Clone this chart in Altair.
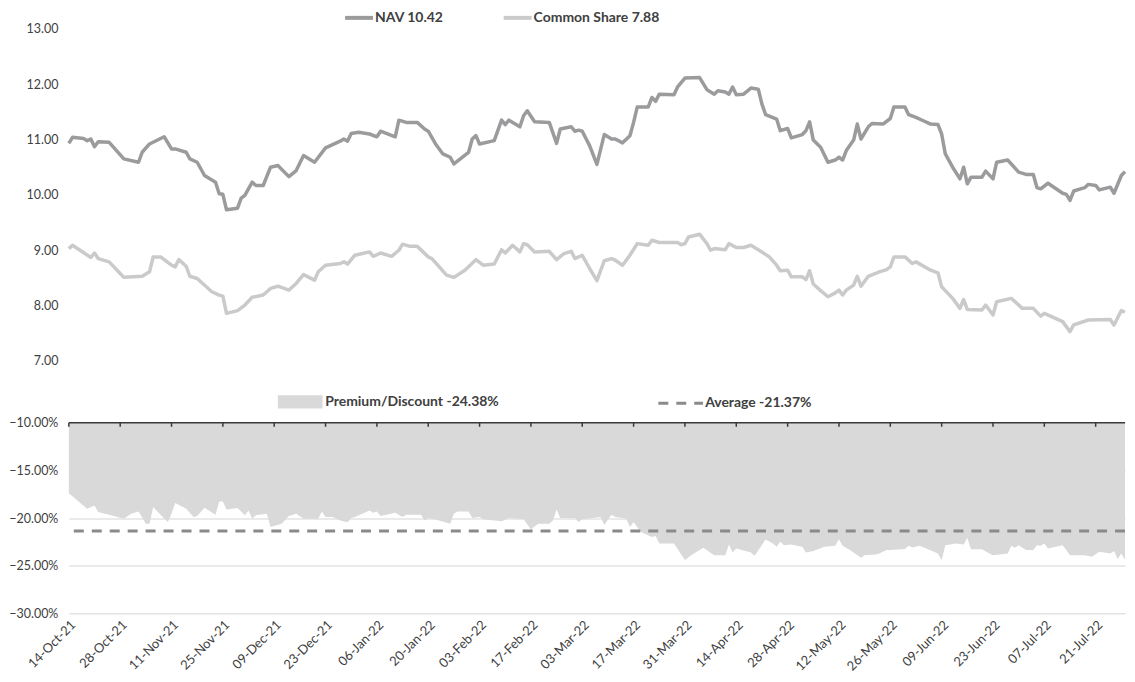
import altair as alt
import pandas as pd

START = "2021-10-14"
END_DAY = 288

nav_days = [0, 1, 4, 5, 6, 7, 8, 11, 13, 15, 19, 20, 22, 26, 28, 29, 32, 33, 35, 37, 40, 41, 42, 43, 46, 47, 48, 50, 51, 53, 55, 57, 60, 62, 64, 67, 70, 74, 75, 76, 77, 79, 82, 84, 85, 89, 90, 92, 95, 97, 98, 100, 102, 104, 105, 109, 110, 111, 112, 116, 118, 119, 120, 123, 124, 125, 127, 131, 133, 134, 137, 138, 139, 140, 142, 144, 146, 148, 149, 151, 153, 154, 155, 158, 159, 160, 161, 165, 166, 168, 172, 174, 176, 177, 179, 180, 181, 182, 184, 186, 188, 189, 190, 193, 194, 196, 197, 200, 201, 202, 203, 205, 207, 209, 210, 211, 212, 214, 215, 216, 218, 219, 222, 224, 225, 228, 229, 231, 233, 235, 237, 238, 239, 241, 243, 244, 245, 246, 249, 250, 252, 253, 256, 259, 261, 263, 264, 265, 267, 271, 272, 273, 274, 277, 278, 280, 281, 284, 285, 287, 288]
nav_vals = [10.93, 11.04, 11.02, 10.98, 11.01, 10.87, 10.96, 10.95, 10.80, 10.65, 10.59, 10.77, 10.92, 11.05, 10.83, 10.83, 10.77, 10.65, 10.59, 10.35, 10.23, 10.02, 10.01, 9.73, 9.76, 9.94, 9.99, 10.23, 10.17, 10.17, 10.50, 10.53, 10.33, 10.44, 10.71, 10.59, 10.85, 10.97, 11.01, 10.97, 11.11, 11.13, 11.10, 11.05, 11.15, 11.05, 11.35, 11.31, 11.31, 11.19, 11.15, 10.92, 10.74, 10.68, 10.56, 10.77, 11.01, 11.07, 10.92, 10.98, 11.35, 11.27, 11.35, 11.23, 11.43, 11.52, 11.32, 11.31, 10.93, 11.19, 11.23, 11.15, 11.17, 11.15, 10.89, 10.55, 11.09, 11.01, 11.01, 10.94, 11.07, 11.31, 11.59, 11.59, 11.76, 11.69, 11.82, 11.81, 11.95, 12.11, 12.12, 11.90, 11.82, 11.88, 11.86, 11.82, 11.95, 11.81, 11.82, 11.93, 11.91, 11.64, 11.45, 11.37, 11.16, 11.20, 11.03, 11.09, 11.16, 11.32, 10.99, 10.86, 10.59, 10.63, 10.68, 10.63, 10.80, 10.99, 11.28, 11.01, 11.23, 11.29, 11.28, 11.38, 11.59, 11.59, 11.45, 11.40, 11.34, 11.28, 11.27, 11.10, 10.74, 10.50, 10.29, 10.50, 10.20, 10.32, 10.32, 10.43, 10.29, 10.59, 10.63, 10.41, 10.37, 10.37, 10.13, 10.11, 10.21, 10.03, 10.01, 9.90, 10.07, 10.13, 10.19, 10.17, 10.09, 10.14, 10.03, 10.35, 10.42]

cs_days = [0, 1, 6, 7, 8, 11, 14, 15, 20, 22, 23, 25, 28, 29, 30, 32, 33, 35, 39, 41, 42, 43, 46, 48, 50, 53, 55, 57, 60, 62, 64, 67, 68, 70, 74, 75, 76, 78, 82, 83, 85, 88, 90, 91, 93, 95, 98, 99, 103, 105, 108, 111, 113, 116, 118, 119, 121, 123, 124, 125, 127, 131, 133, 135, 137, 138, 140, 142, 144, 146, 148, 149, 151, 153, 155, 158, 159, 161, 166, 167, 168, 169, 172, 174, 175, 176, 179, 180, 182, 184, 186, 188, 191, 193, 194, 196, 197, 200, 201, 202, 203, 205, 207, 209, 210, 211, 212, 214, 215, 216, 218, 220, 221, 223, 224, 225, 228, 230, 231, 235, 237, 238, 241, 243, 244, 245, 249, 250, 252, 253, 257, 260, 263, 265, 266, 271, 273, 274, 278, 284, 285, 287, 288]
cs_vals = [9.03, 9.09, 8.87, 8.95, 8.85, 8.79, 8.58, 8.51, 8.53, 8.61, 8.88, 8.88, 8.73, 8.70, 8.83, 8.71, 8.53, 8.49, 8.25, 8.19, 8.17, 7.86, 7.91, 8.01, 8.15, 8.19, 8.31, 8.35, 8.28, 8.40, 8.56, 8.46, 8.61, 8.73, 8.76, 8.79, 8.75, 8.91, 8.97, 8.89, 8.95, 8.89, 9.00, 9.11, 9.07, 9.07, 8.88, 8.85, 8.55, 8.51, 8.64, 8.83, 8.73, 8.75, 9.01, 8.95, 9.09, 8.97, 9.12, 9.10, 8.97, 8.98, 8.83, 8.94, 8.98, 8.85, 8.91, 8.67, 8.45, 8.81, 8.85, 8.82, 8.73, 8.91, 9.12, 9.09, 9.18, 9.14, 9.14, 9.10, 9.12, 9.24, 9.29, 9.12, 9.00, 9.03, 9.01, 9.12, 9.05, 9.05, 9.09, 9.01, 8.88, 8.73, 8.63, 8.64, 8.52, 8.52, 8.47, 8.63, 8.39, 8.27, 8.16, 8.23, 8.28, 8.19, 8.28, 8.37, 8.53, 8.35, 8.53, 8.58, 8.61, 8.65, 8.70, 8.88, 8.88, 8.76, 8.79, 8.64, 8.59, 8.34, 8.13, 7.95, 8.11, 7.93, 7.92, 8.01, 7.83, 8.07, 8.13, 7.95, 7.95, 7.81, 7.86, 7.71, 7.53, 7.65, 7.74, 7.75, 7.65, 7.91, 7.88]

pd_days = [0, 5, 7, 8, 11, 15, 17, 19, 21, 22, 23, 25, 27, 28, 29, 32, 34, 35, 37, 40, 41, 42, 43, 46, 48, 49, 50, 51, 54, 55, 58, 60, 62, 64, 68, 69, 70, 72, 74, 76, 77, 78, 82, 83, 84, 85, 89, 91, 92, 96, 97, 98, 101, 104, 105, 106, 109, 110, 112, 113, 118, 120, 124, 126, 128, 131, 132, 133, 134, 138, 139, 140, 145, 146, 148, 149, 151, 152, 153, 154, 156, 159, 160, 161, 165, 168, 170, 173, 176, 179, 180, 181, 182, 186, 187, 190, 192, 193, 194, 195, 197, 200, 201, 203, 206, 209, 210, 211, 213, 216, 217, 220, 221, 223, 224, 228, 229, 230, 232, 237, 238, 239, 242, 244, 245, 246, 249, 251, 252, 256, 257, 258, 259, 261, 263, 264, 265, 266, 267, 271, 273, 277, 279, 281, 284, 285, 286, 287, 288]
pd_vals = [-17.40, -19.03, -18.68, -19.38, -19.66, -20.07, -19.55, -19.31, -20.59, -20.59, -18.85, -19.66, -20.42, -19.55, -18.41, -19.03, -19.90, -19.79, -18.93, -19.66, -18.27, -18.27, -19.10, -18.96, -19.72, -19.21, -20.07, -19.72, -19.55, -20.94, -20.59, -19.79, -19.55, -20.07, -20.07, -19.31, -19.90, -19.90, -20.25, -20.45, -20.00, -19.90, -19.21, -19.45, -19.31, -19.79, -19.45, -19.90, -19.66, -19.66, -20.25, -20.00, -20.25, -20.59, -19.55, -19.31, -19.31, -20.00, -19.90, -20.14, -20.35, -20.00, -20.14, -21.18, -20.59, -20.59, -20.25, -19.10, -20.00, -20.00, -20.42, -20.14, -19.90, -20.70, -19.66, -19.90, -20.00, -20.07, -20.94, -20.42, -21.46, -21.98, -21.88, -22.68, -22.68, -24.42, -23.82, -23.13, -23.90, -23.90, -22.78, -23.61, -23.20, -23.61, -23.96, -22.26, -22.68, -23.02, -22.50, -22.85, -22.78, -23.02, -23.61, -23.47, -23.02, -22.92, -22.23, -22.92, -23.37, -24.17, -23.90, -23.82, -23.72, -23.37, -23.37, -23.25, -22.90, -23.10, -22.92, -23.72, -24.42, -22.85, -22.68, -22.78, -22.08, -23.27, -23.27, -23.72, -23.90, -23.72, -22.92, -23.13, -22.85, -23.37, -23.37, -22.85, -22.92, -22.68, -23.20, -22.85, -23.90, -23.90, -24.06, -23.54, -23.72, -23.47, -24.31, -23.72, -24.38]

avg_pd = -21.37
nav_last = 10.42
cs_last = 7.88
pd_last = -24.38

top_ticks = [7, 8, 9, 10, 11, 12, 13]
bottom_ticks = [-10, -15, -20, -25, -30]
date_tick_step = 14

FONT = "Lato"
TXT = "#404040"
AXIS_EXTENT = 57
W = 1059

start = pd.Timestamp(START)


def to_dates(days):
    return [(start + pd.Timedelta(days=d)).strftime("%Y-%m-%d") for d in days]


def to_ms(d):
    return int((pd.Timestamp(START, tz="UTC") + pd.Timedelta(days=d)).timestamp() * 1000)


nav_label = f"NAV  {nav_last:.2f}"
cs_label = f"Common Share  {cs_last:.2f}"
pd_label = f"Premium/Discount  {pd_last:.2f}%"
avg_label = f"Average {avg_pd:.2f}%"

top_df = pd.concat([
    pd.DataFrame({"date": to_dates(nav_days), "value": nav_vals, "series": nav_label}),
    pd.DataFrame({"date": to_dates(cs_days), "value": cs_vals, "series": cs_label}),
])
prem_df = pd.DataFrame({
    "date": to_dates(pd_days),
    "value": [v / 100 for v in pd_vals],
    "top": bottom_ticks[0] / 100,
    "label": pd_label,
})
avg_df = pd.DataFrame({"value": [avg_pd / 100], "label": [avg_label]})
tick_days = list(range(0, END_DAY, date_tick_step))
tick_df = pd.DataFrame({"date": to_dates(tick_days)})
axis_df = pd.DataFrame({"value": [bottom_ticks[0] / 100]})

x_scale = alt.Scale(type="utc", domain=[to_ms(0), to_ms(END_DAY)], nice=False)
tick_ms = [to_ms(d) for d in tick_days]

legend_text = dict(labelFont=FONT, labelFontSize=14, labelFontWeight="bold", labelColor=TXT,
                   labelLimit=400, padding=0, title=None)
y_axis_style = dict(grid=False, domain=False, ticks=False, labelPadding=11,
                    minExtent=AXIS_EXTENT, maxExtent=AXIS_EXTENT, labelFontSize=12.5,
                    labelColor=TXT, labelFont=FONT, title=None)

top = alt.Chart(top_df).mark_line(strokeWidth=3.5, strokeJoin="round").encode(
    x=alt.X("date:T", scale=x_scale, axis=None),
    y=alt.Y("value:Q", scale=alt.Scale(domain=[top_ticks[0], top_ticks[-1]], nice=False, zero=False),
            axis=alt.Axis(values=top_ticks, format=".2f", **y_axis_style)),
    color=alt.Color("series:N",
                    scale=alt.Scale(domain=[nav_label, cs_label], range=["#9b9b9d", "#cacacb"]),
                    legend=alt.Legend(orient="none", legendX=282, legendY=-20, direction="horizontal",
                                      symbolType="M-2,0H2", symbolStrokeWidth=4, symbolSize=196,
                                      symbolFillColor="transparent", columnPadding=48,
                                      labelOffset=7, **legend_text)),
).properties(width=W, height=333)

y_bottom = alt.Scale(domain=[bottom_ticks[-1] / 100, bottom_ticks[0] / 100], nice=False, zero=False)

area = alt.Chart(prem_df).mark_area(interpolate="linear").encode(
    x=alt.X("date:T", scale=x_scale,
            axis=alt.Axis(values=tick_ms, format="%d-%b-%y", labelAngle=-45, labelAlign="right",
                          labelBaseline="top", grid=False, domain=False, ticks=False,
                          labelPadding=5, labelFontSize=13, labelColor=TXT, labelFont=FONT,
                          title=None, labelOverlap=False)),
    y=alt.Y("value:Q", scale=y_bottom,
            axis=alt.Axis(values=[t / 100 for t in bottom_ticks], format=".2%",
                          **{**y_axis_style, "grid": True}, gridColor="#e3e3e3", gridWidth=1.5)),
    y2="top:Q",
    fill=alt.Fill("label:N", scale=alt.Scale(domain=[pd_label], range=["#d9d9da"]),
                  legend=alt.Legend(orient="none", legendX=225, legendY=-28,
                                    symbolType="M-3.2,-0.95H3.2V0.95H-3.2Z", symbolSize=196,
                                    symbolStrokeWidth=0, labelOffset=18, **legend_text)),
)

avg_rule = alt.Chart(avg_df).mark_rule(strokeWidth=3, color="#8a8a8a").encode(
    y=alt.Y("value:Q", scale=y_bottom),
    strokeDash=alt.StrokeDash("label:N", scale=alt.Scale(domain=[avg_label], range=[[10, 8]]),
                              legend=alt.Legend(orient="none", legendX=605, legendY=-28,
                                                symbolType="M-3.2,0H3.2", symbolSize=196,
                                                symbolStrokeWidth=3, symbolStrokeColor="#8a8a8a",
                                                symbolFillColor="transparent", labelOffset=16,
                                                **legend_text)),
)

axis_line = alt.Chart(axis_df).mark_rule(strokeWidth=1.5, color="#3a3a3a").encode(
    y=alt.Y("value:Q", scale=y_bottom),
)

axis_ticks = alt.Chart(tick_df).mark_rule(strokeWidth=1.5, color="#3a3a3a").encode(
    x=alt.X("date:T", scale=x_scale),
    y=alt.value(0),
    y2=alt.value(4),
)

bottom = alt.layer(area, avg_rule, axis_line, axis_ticks).resolve_legend(
    fill="independent", strokeDash="independent"
).properties(width=W, height=191)

chart = alt.vconcat(top, bottom, spacing=27).properties(padding=0).configure(
    font=FONT
).configure_view(strokeWidth=0)

chart.save("out.html", embed_options={"renderer": "svg", "actions": False})
